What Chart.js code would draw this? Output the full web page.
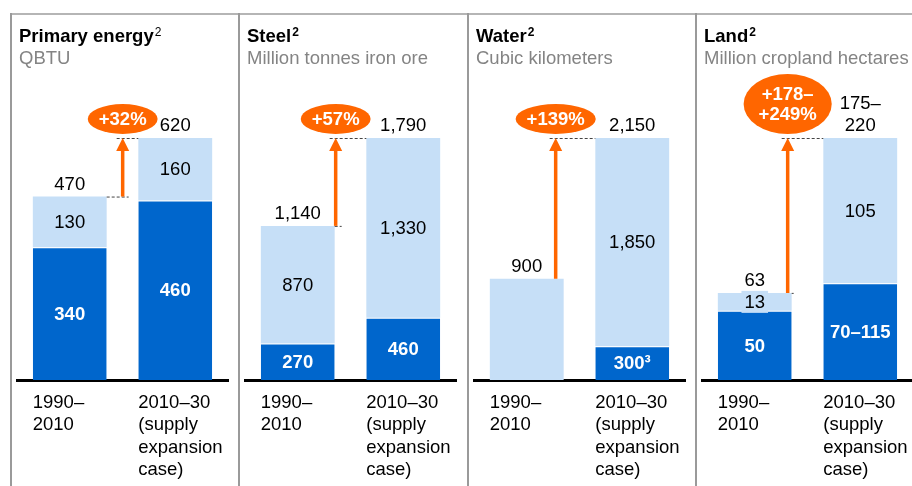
<!DOCTYPE html>
<html>
<head>
<meta charset="utf-8">
<script src="https://cdn.jsdelivr.net/npm/chart.js@4.4.1/dist/chart.umd.min.js"></script>
<style>
  html, body { margin: 0; padding: 0; background: #fff; overflow: hidden; }
  #wrap { position: relative; width: 912px; height: 486px; overflow: hidden; }
  #wrap canvas { position: absolute; top: 0; }
</style>
</head>
<body>
<div id="wrap">
  <canvas id="energyCanvas" width="229" height="486" style="left:10px"></canvas>
  <canvas id="steelCanvas" width="229" height="486" style="left:238px"></canvas>
  <canvas id="waterCanvas" width="229" height="486" style="left:467px"></canvas>
  <canvas id="landCanvas" width="229" height="486" style="left:695px"></canvas>
</div>
<script>
// periods on the x axis
const periods = [["1990–", "2010"], ["2010–30", "(supply", "expansion", "case)"]];

// primary energy, QBTU
const energyBase = [340, 460];
const energyAdded = [130, 160];
// steel, million tonnes iron ore
const steelBase = [270, 460];
const steelAdded = [870, 1330];
// water, cubic kilometers
const waterBase = [0, 300];
const waterAdded = [900, 1850];
// land, million cropland hectares (low end of the range)
const landBase = [50, 70];
const landAdded = [13, 105];

const panelTitles = ["Primary energy", "Steel", "Water", "Land"];
const panelUnits = ["QBTU", "Million tonnes iron ore", "Cubic kilometers", "Million cropland hectares"];
const growthLabels = [["+32%"], ["+57%"], ["+139%"], ["+178–", "+249%"]];
const landBaseLabels = ["50", "70–115"];
const landTotalLabels = [["63"], ["175–", "220"]];

const FONT = "'Liberation Sans', Arial, sans-serif";
const DARK = "#0066cc";
const LIGHT = "#c6dff7";
const ORANGE = "#ff6600";

function fmt(n) {
    return String(n).replace(/\B(?=(\d{3})+(?!\d))/g, ",");
}

// draws frame, titles, value labels and the growth arrow
const panelDeco = {
    id: "panelDeco",
    afterDraw(chart, args, o) {
        const ctx = chart.ctx;
        const W = chart.width, H = chart.height;
        ctx.save();
        // frame
        ctx.fillStyle = "#b5b5b5";
        ctx.fillRect(0, 13, W, 2);
        ctx.fillStyle = "#9a9a9a";
        ctx.fillRect(0, 13, 2, H - 13);

        // title + unit
        ctx.textAlign = "left";
        ctx.textBaseline = "alphabetic";
        ctx.fillStyle = "#000";
        ctx.font = "bold 18.5px " + FONT;
        ctx.fillText(o.title, 9, 42);
        const tw = ctx.measureText(o.title).width;
        ctx.font = (o.supBold ? "bold " : "") + "12px " + FONT;
        ctx.fillText("2", 9 + tw + 1, 36);
        ctx.fillStyle = "#848484";
        ctx.font = "18.5px " + FONT;
        ctx.fillText(o.unit, 9, 64);

        const dark = chart.getDatasetMeta(0).data;
        const light = chart.getDatasetMeta(1).data;
        ctx.textAlign = "center";
        for (let i = 0; i < 2; i++) {
            const d = dark[i], l = light[i];
            if (o.baseText[i]) {
                ctx.font = "bold 18.5px " + FONT;
                ctx.fillStyle = "#fff";
                ctx.textBaseline = "middle";
                ctx.fillText(o.baseText[i], d.x, (d.y + d.base) / 2 + 1);
            }
            if (o.addedText[i]) {
                ctx.font = "18.5px " + FONT;
                ctx.textBaseline = "middle";
                const cy = (l.y + l.base) / 2 + 1;
                if (o.addedBox) {
                    const w = ctx.measureText(o.addedText[i]).width + 6;
                    ctx.fillStyle = LIGHT;
                    ctx.fillRect(l.x - w / 2, cy - 12, w, 22);
                }
                ctx.fillStyle = "#000";
                ctx.fillText(o.addedText[i], l.x, cy);
            }
            ctx.font = "18.5px " + FONT;
            ctx.fillStyle = "#000";
            ctx.textBaseline = "alphabetic";
            const lines = o.totalText[i];
            lines.forEach((t, k) => {
                ctx.fillText(t, l.x, l.y - 7 - (lines.length - 1 - k) * 22);
            });
        }

        // growth arrow from bar 1 top to bar 2 top
        const right1 = dark[0].x + dark[0].width / 2;
        const left2 = dark[1].x - dark[1].width / 2;
        const ax = right1 + o.arrowShift;
        const yLow = light[0].y, yTop = light[1].y;
        ctx.strokeStyle = "#444";
        ctx.lineWidth = 1;
        ctx.setLineDash([3, 2]);
        if (ax + 6 > right1) {
            ctx.beginPath();
            ctx.moveTo(right1, yLow + 0.5);
            ctx.lineTo(ax + 6, yLow + 0.5);
            ctx.stroke();
        }
        ctx.beginPath();
        ctx.moveTo(ax - 6, yTop + 0.5);
        ctx.lineTo(left2, yTop + 0.5);
        ctx.stroke();
        ctx.setLineDash([]);
        ctx.strokeStyle = ORANGE;
        ctx.lineWidth = 3.5;
        ctx.beginPath();
        ctx.moveTo(ax, yLow);
        ctx.lineTo(ax, yTop + 12);
        ctx.stroke();
        ctx.fillStyle = ORANGE;
        ctx.beginPath();
        ctx.moveTo(ax, yTop);
        ctx.lineTo(ax - 6.5, yTop + 13);
        ctx.lineTo(ax + 6.5, yTop + 13);
        ctx.closePath();
        ctx.fill();

        // orange bubble
        const g = o.growth;
        ctx.font = "bold 18.5px " + FONT;
        const gw = Math.max(...g.map(t => ctx.measureText(t).width));
        const rx = gw / 2 + (g.length > 1 ? 15 : 11);
        const ry = 15 * g.length;
        const cy = yTop - 4 - ry;
        ctx.beginPath();
        ctx.ellipse(ax, cy, rx, ry, 0, 0, Math.PI * 2);
        ctx.fill();
        ctx.fillStyle = "#fff";
        ctx.textBaseline = "middle";
        g.forEach((t, k) => {
            ctx.fillText(t, ax, cy + (k - (g.length - 1) / 2) * 20 + 1);
        });
        ctx.restore();
    }
};

function makePanel(canvasId, idx, base, added, texts, arrowShift) {
    const totals = base.map((b, i) => b + added[i]);
    return new Chart(document.getElementById(canvasId), {
        type: "bar",
        data: {
            labels: periods,
            datasets: [
                {
                    data: base,
                    backgroundColor: DARK,
                    borderColor: "#fff",
                    // white seam on top of the dark part, none for empty bars
                    borderWidth: c => ({ top: c.raw ? 1 : 0, left: 0, right: 0, bottom: 0 }),
                    borderSkipped: false,
                },
                {
                    data: added,
                    backgroundColor: LIGHT,
                    borderWidth: 0,
                },
            ],
        },
        options: {
            responsive: false,
            animation: false,
            devicePixelRatio: 1,
            datasets: { bar: { barPercentage: 0.7, categoryPercentage: 1 } },
            layout: { padding: { top: 138, left: 7, right: 11, bottom: 0 } },
            scales: {
                x: {
                    stacked: true,
                    z: 1,
                    grid: { display: false, drawTicks: false },
                    border: { color: "#000", width: 3 },
                    ticks: {
                        align: "start",
                        labelOffset: -37,
                        padding: 12,
                        maxRotation: 0,
                        autoSkip: false,
                        color: "#000",
                        font: { family: FONT, size: 18.5, lineHeight: 1.2 },
                    },
                    afterFit(s) {
                        s.height = 106;
                        s.paddingLeft = 0;
                        s.paddingRight = 0;
                    },
                },
                y: { stacked: true, display: false, min: 0, max: totals[1] },
            },
            plugins: {
                legend: { display: false },
                tooltip: { enabled: false },
                panelDeco: {
                    title: panelTitles[idx],
                    unit: panelUnits[idx],
                    supBold: idx > 0,
                    growth: growthLabels[idx],
                    arrowShift: arrowShift,
                    baseText: texts.baseText || base.map(v => (v ? fmt(v) : "")),
                    addedText: texts.addedText || added.map((v, i) => (base[i] ? fmt(v) : "")),
                    totalText: texts.totalText || totals.map(t => [fmt(t)]),
                    addedBox: !!texts.addedBox,
                },
            },
        },
        plugins: [panelDeco],
    });
}

makePanel("energyCanvas", 0, energyBase, energyAdded, {}, 16);
makePanel("steelCanvas", 1, steelBase, steelAdded, {}, 1);
makePanel("waterCanvas", 2, waterBase, waterAdded, {
    baseText: ["", fmt(waterBase[1]) + "³"],
}, -8);
makePanel("landCanvas", 3, landBase, landAdded, {
    baseText: landBaseLabels,
    totalText: landTotalLabels,
    addedBox: true,
}, -4);
</script>
</body>
</html>
